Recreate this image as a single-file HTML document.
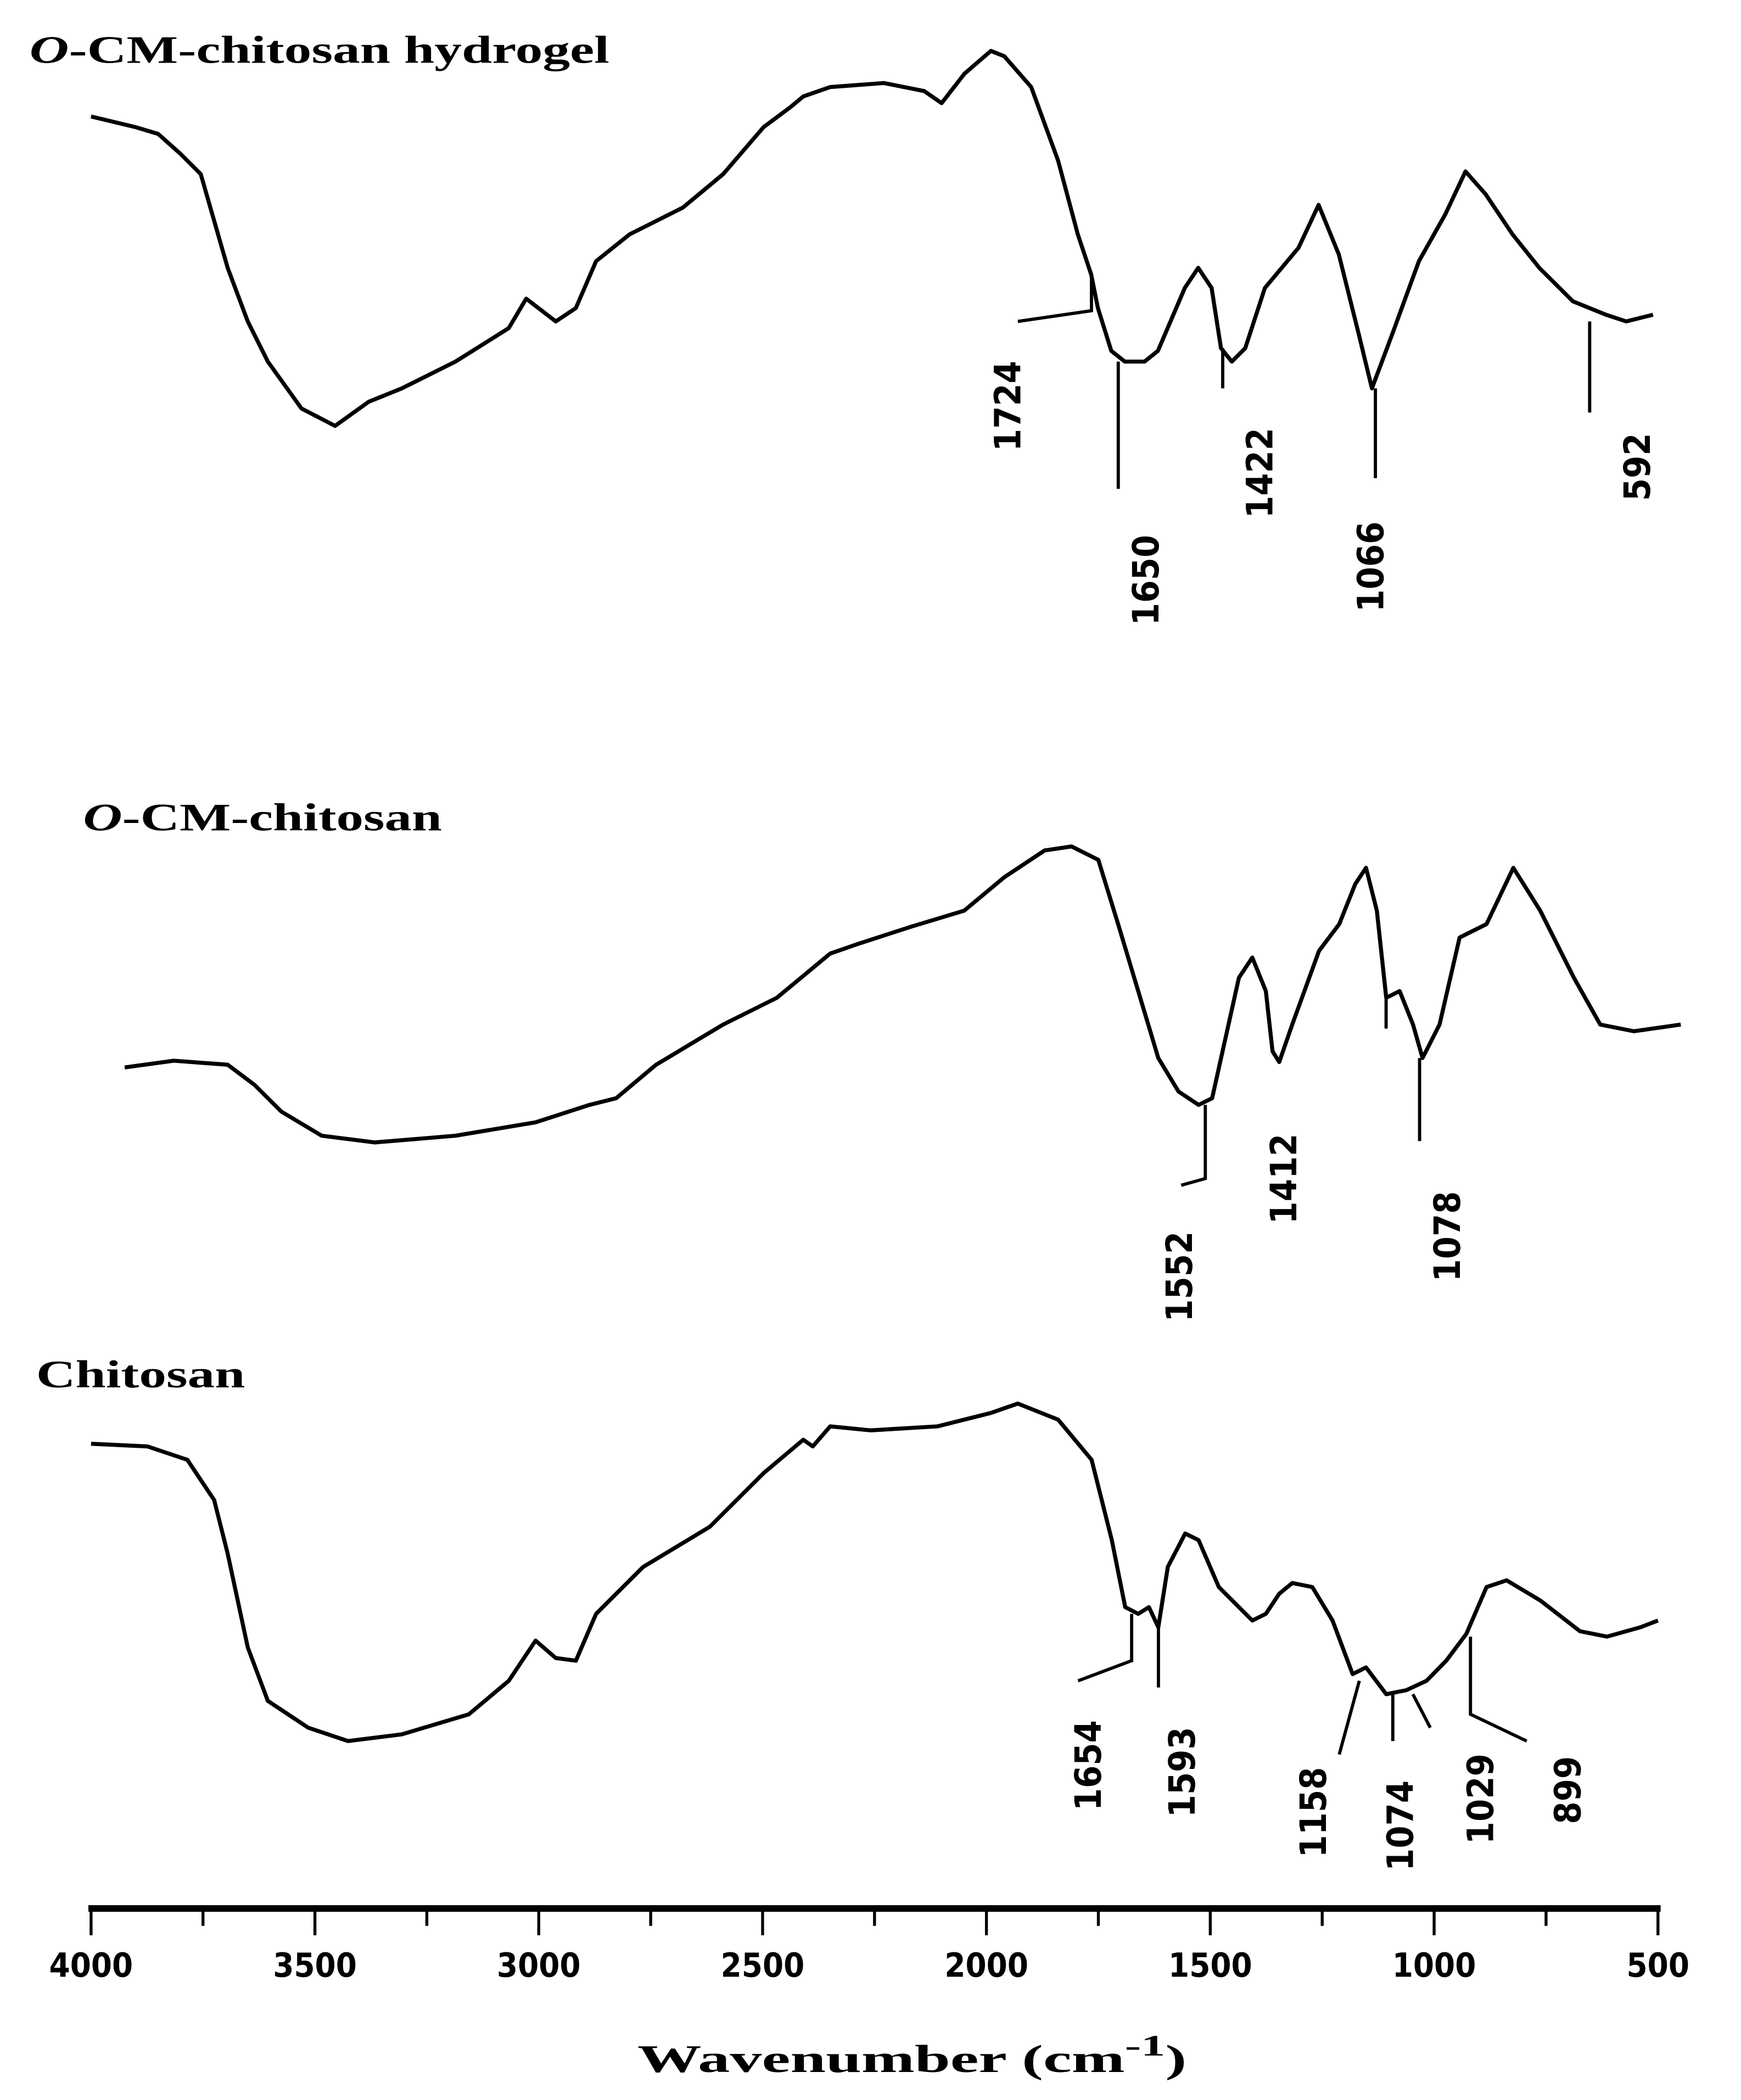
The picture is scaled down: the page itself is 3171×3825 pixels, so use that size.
<!DOCTYPE html>
<html><head><meta charset="utf-8"><style>
html,body{margin:0;padding:0;background:#fff;}
svg{display:block;}
.lbl{font-family:"DejaVu Sans Condensed","DejaVu Sans","Liberation Sans",sans-serif;font-weight:bold;font-size:27px;fill:#000;}
.ttl{font-family:"Liberation Serif",serif;font-weight:bold;font-size:29px;fill:#000;}
.tick{font-family:"DejaVu Sans Condensed","DejaVu Sans",sans-serif;font-weight:bold;font-size:25px;fill:#000;}
</style></head><body>
<svg id="chart" width="3171" height="3825" viewBox="0 0 1300 1568" preserveAspectRatio="none" xmlns="http://www.w3.org/2000/svg">
<text class="ttl" x="22" y="47" textLength="433" lengthAdjust="spacingAndGlyphs"><tspan font-style="italic">O</tspan>-CM-chitosan hydrogel</text>
<text class="ttl" x="62" y="620" textLength="268" lengthAdjust="spacingAndGlyphs"><tspan font-style="italic">O</tspan>-CM-chitosan</text>
<text class="ttl" x="27" y="1036" textLength="156" lengthAdjust="spacingAndGlyphs">Chitosan</text>
<g id="axis"></g>
<g id="series"></g>
<g id="annot" stroke="#000" stroke-width="2.4" fill="none">
<polyline points="760,240 815,232 815,205"/>
<line x1="835" y1="270" x2="835" y2="365"/>
<line x1="913" y1="260" x2="913" y2="290"/>
<line x1="1027" y1="290" x2="1027" y2="357"/>
<line x1="1187" y1="240" x2="1187" y2="308"/>
<polyline points="882,885 900,880 900,825"/>
<line x1="1035" y1="745" x2="1035" y2="768"/>
<line x1="1060" y1="790" x2="1060" y2="852"/>
<polyline points="805,1255 845,1240 845,1205"/>
<line x1="865" y1="1210" x2="865" y2="1260"/>
<line x1="1000" y1="1310" x2="1015" y2="1255"/>
<line x1="1040" y1="1265" x2="1040" y2="1300"/>
<line x1="1068" y1="1290" x2="1055" y2="1265"/>
<polyline points="1098,1222 1098,1280 1140,1300"/>
</g>
<g>
<text class="lbl" transform="translate(762,337) rotate(-90)">1724</text>
<text class="lbl" transform="translate(865,467) rotate(-90)">1650</text>
<text class="lbl" transform="translate(950,387) rotate(-90)">1422</text>
<text class="lbl" transform="translate(1033,457) rotate(-90)">1066</text>
<text class="lbl" transform="translate(1232,374) rotate(-90)">592</text>
<text class="lbl" transform="translate(890,987) rotate(-90)">1552</text>
<text class="lbl" transform="translate(968,914) rotate(-90)">1412</text>
<text class="lbl" transform="translate(1090,957) rotate(-90)">1078</text>
<text class="lbl" transform="translate(822,1352) rotate(-90)">1654</text>
<text class="lbl" transform="translate(892,1357) rotate(-90)">1593</text>
<text class="lbl" transform="translate(990,1387) rotate(-90)">1158</text>
<text class="lbl" transform="translate(1055,1397) rotate(-90)">1074</text>
<text class="lbl" transform="translate(1115,1377) rotate(-90)">1029</text>
<text class="lbl" transform="translate(1180,1362) rotate(-90)">899</text>
</g>
<text class="ttl" x="476" y="1547" font-size="36" textLength="410" lengthAdjust="spacingAndGlyphs">Wavenumber (cm<tspan baseline-shift="super" font-size="22">-1</tspan>)</text>
</svg>
<script>
const tickValues=[4000,3750,3500,3250,3000,2750,2500,2250,2000,1750,1500,1250,1000,750,500];
const tickLabels=["4000","3500","3000","2500","2000","1500","1000","500"];
const hydrogelW=[4000,3900,3850,3800,3755,3695,3650,3605,3530,3455,3380,3306,3186,3067,3028,2962,2917,2872,2797,2678,2588,2498,2438,2409,2349,2229,2139,2100,2049,1990,1960,1900,1840,1796,1766,1751,1721,1691,1647,1617,1557,1527,1497,1476,1452,1422,1378,1303,1258,1213,1168,1139,1094,1034,975,930,885,825,765,690,616,571,511];
const hydrogelT=[263,255,250,235,220,150,110,80,45,32,50,60,80,105,127,110,120,155,175,195,220,255,270,278,285,288,282,273,295,312,308,285,230,175,145,120,88,80,80,88,135,150,135,90,80,90,135,165,197,160,100,60,100,155,190,222,205,175,150,125,115,110,115];
const ocmW=[3925,3815,3695,3635,3575,3485,3366,3186,3007,2887,2827,2738,2588,2468,2349,2289,2169,2050,1960,1870,1810,1750,1706,1661,1616,1571,1526,1496,1466,1436,1406,1376,1361,1346,1317,1257,1212,1176,1152,1128,1107,1077,1047,1026,988,943,883,823,763,688,629,554,449];
const ocmT=[73,78,75,60,40,22,17,22,32,45,50,75,105,125,158,165,178,190,215,235,238,228,180,130,80,55,45,50,95,140,155,130,85,77,105,160,180,210,222,190,125,130,105,80,105,170,180,222,190,140,105,100,105];
const chitW=[4000,3874,3785,3725,3695,3650,3605,3515,3426,3306,3156,3067,3007,2962,2917,2872,2767,2618,2498,2409,2388,2349,2259,2109,1990,1930,1840,1765,1720,1690,1661,1637,1616,1595,1556,1526,1481,1436,1406,1376,1346,1317,1272,1227,1182,1152,1107,1062,1017,973,928,883,838,763,674,614,539,500];
const chitT=[242,240,230,200,160,90,50,30,20,25,40,65,95,82,80,115,150,180,220,245,240,255,252,255,265,272,260,230,170,120,115,120,105,150,175,170,135,120,110,115,130,138,135,110,70,75,55,58,65,80,100,135,140,125,102,98,105,110];

const NS="http://www.w3.org/2000/svg";
function xScale(w){return 68+(4000-w)/3500*1170;}
function yScale(base){return v=>base-v;}
const axisY=1425;
const axis=document.getElementById('axis');
const al=document.createElementNS(NS,'line');


al.setAttribute('x1',66);al.setAttribute('x2',1240);al.setAttribute('y1',axisY);al.setAttribute('y2',axisY);
al.setAttribute('stroke','#000');al.setAttribute('stroke-width',5);
axis.appendChild(al);
tickValues.forEach((t,i)=>{
  const l=document.createElementNS(NS,'line');
  
  
  const x=xScale(t);
  l.setAttribute('x1',x);l.setAttribute('x2',x);l.setAttribute('y1',axisY);l.setAttribute('y2',axisY+(i%2===0?20:13));
  l.setAttribute('stroke','#000');l.setAttribute('stroke-width',2.2);
  axis.appendChild(l);
});
tickLabels.forEach(s=>{
  const t=document.createElementNS(NS,'text');
  
  
  t.setAttribute('class','tick');
  t.setAttribute('x',xScale(+s));t.setAttribute('y',1476);t.setAttribute('text-anchor','middle');
  t.textContent=s;
  axis.appendChild(t);
});
const sg=document.getElementById('series');
function draw(W,T,base,name){
  const ys=yScale(base);
  const p=document.createElementNS(NS,'polyline');
  
  
  p.setAttribute('points',W.map((w,i)=>xScale(w).toFixed(1)+','+ys(T[i]).toFixed(1)).join(' '));
  p.setAttribute('fill','none');p.setAttribute('stroke','#000');p.setAttribute('stroke-width',3);
  p.setAttribute('stroke-linejoin','round');
  sg.appendChild(p);
}
draw(hydrogelW,hydrogelT,350,'hydrogel-spectrum');
draw(ocmW,ocmT,870,'ocm-chitosan-spectrum');
draw(chitW,chitT,1320,'chitosan-spectrum');
</script>
</body></html>
